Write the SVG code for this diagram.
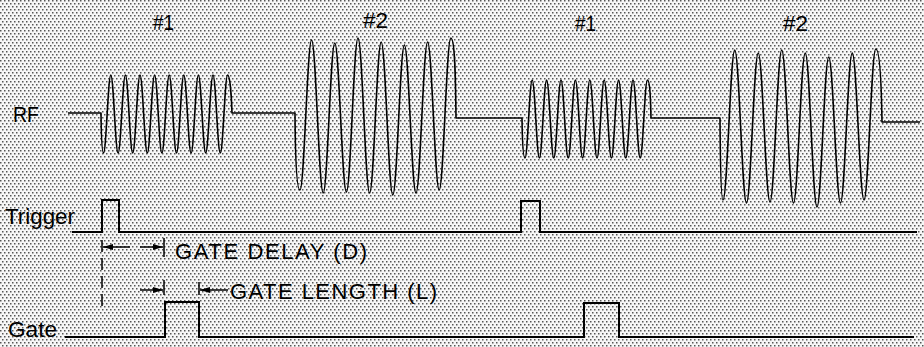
<svg xmlns="http://www.w3.org/2000/svg" width="924" height="347" viewBox="0 0 924 347">
<defs>
<pattern id="dots" width="4" height="6" patternUnits="userSpaceOnUse">
<rect width="4" height="6" fill="#f6f6f6"/>
<rect x="0" y="0" width="1.5" height="1.5" fill="#555"/>
<rect x="2" y="3" width="1.5" height="1.5" fill="#555"/>
</pattern>
<marker id="ah" viewBox="0 0 10 6" refX="10" refY="3" markerWidth="11" markerHeight="6" markerUnits="userSpaceOnUse" orient="auto">
<path d="M0,0 L10,3 L0,6 Z" fill="#000"/>
</marker>
</defs>
<style>
.lbl{font-family:"Liberation Sans",Arial,sans-serif;font-size:22px;fill:#000}
.sig{fill:none;stroke:#000;stroke-width:2}
.rf{fill:none;stroke:#000;stroke-width:1.6;stroke-linejoin:round}
.dim{fill:none;stroke:#000;stroke-width:1.5}
</style>
<rect width="924" height="347" fill="url(#dots)"/>

<g id="rf">
<text class="lbl" x="13" y="122" textLength="26" lengthAdjust="spacingAndGlyphs">RF</text>
<text class="lbl" x="153" y="30" textLength="21" lengthAdjust="spacingAndGlyphs">#1</text>
<text class="lbl" x="363" y="28" textLength="25" lengthAdjust="spacingAndGlyphs">#2</text>
<text class="lbl" x="575" y="31" textLength="21" lengthAdjust="spacingAndGlyphs">#1</text>
<text class="lbl" x="783" y="31" textLength="25" lengthAdjust="spacingAndGlyphs">#2</text>
<path class="rf" d="M68,113 H101 Q101.5,153 103.5,153
C106.16,153 108.14,75 110.8,75
S115.44,153 118.1,153 S122.74,75 125.4,75
S130.04,153 132.7,153 S137.34,75 140,75
S144.64,153 147.3,153 S151.94,75 154.6,75
S159.24,153 161.9,153 S166.54,75 169.2,75
S173.84,153 176.5,153 S181.14,75 183.8,75
S188.44,153 191.1,153 S195.74,75 198.4,75
S203.04,153 205.7,153 S210.34,75 213,75
S217.64,153 220.3,153 S224.94,75 227.6,75
S231.6,100 232,113 H295 Q295.5,190 300,190
C304.22,190 307.38,40 311.6,40
S318.98,193 323.2,193 S330.58,43 334.8,43
S342.18,192 346.4,192 S353.78,38 358,38
S365.38,193 369.6,193 S376.98,42 381.2,42
S388.58,195 392.8,195 S400.18,45 404.4,45
S411.78,193 416,193 S423.38,42 427.6,42
S434.98,190 439.2,190 S446.58,38 450.8,38
S455.6,80 456,118 H522 Q522.5,158 525,158
C527.62,158 529.58,80 532.2,80
S536.78,158 539.4,158 S543.98,80 546.6,80
S551.18,158 553.8,158 S558.38,80 561,80
S565.58,158 568.2,158 S572.78,80 575.4,80
S579.98,158 582.6,158 S587.18,80 589.8,80
S594.38,158 597,158 S601.58,80 604.2,80
S608.78,158 611.4,158 S615.98,80 618.6,80
S623.18,158 625.8,158 S630.38,80 633,80
S637.58,158 640.2,158 S644.78,80 647.4,80
S650.6,100 651,118 H720 Q720.5,200 723,200
C727.28,200 730.47,50 734.75,50
S742.22,203 746.5,203 S753.97,53 758.25,53
S765.72,202 770,202 S777.47,50 781.75,50
S789.22,203 793.5,203 S800.97,53 805.25,53
S812.72,207 817,207 S824.47,57 828.75,57
S836.22,203 840.5,203 S847.97,53 852.25,53
S859.72,200 864,200 S871.47,49 875.75,49
S881.5,90 882,122 H920"/>
</g>

<g id="trigger">
<text class="lbl" x="5" y="224" textLength="70" lengthAdjust="spacingAndGlyphs">Trigger</text>
<path class="sig" d="M72,232 H102 V200 H119 V232 H521 V201 H540 V232 H917"/>
</g>

<g id="gate">
<text class="lbl" x="8" y="337" textLength="49" lengthAdjust="spacingAndGlyphs">Gate</text>
<path class="sig" d="M65,337 H165 V302 H199 V337 H584 V303 H619 V337 H914"/>
</g>

<g id="connectors">
<line class="dim" x1="102" y1="240" x2="102" y2="310" stroke-dasharray="12 6"/>
<line class="dim" x1="164" y1="238" x2="164" y2="257"/>
<line class="dim" x1="164" y1="280" x2="164" y2="295"/>
<line class="dim" x1="199" y1="282" x2="199" y2="295"/>
<line class="dim" x1="130" y1="247" x2="103" y2="247" marker-end="url(#ah)"/>
<line class="dim" x1="140" y1="247" x2="163" y2="247" marker-end="url(#ah)"/>
<line class="dim" x1="140" y1="290" x2="163" y2="290" marker-end="url(#ah)"/>
<line class="dim" x1="228" y1="290" x2="200" y2="290" marker-end="url(#ah)"/>
</g>

<g id="labels">
<text class="lbl" x="175" y="259" textLength="192" lengthAdjust="spacing">GATE DELAY (D)</text>
<text class="lbl" x="230" y="299" textLength="207" lengthAdjust="spacing">GATE LENGTH (L)</text>
</g>
</svg>
